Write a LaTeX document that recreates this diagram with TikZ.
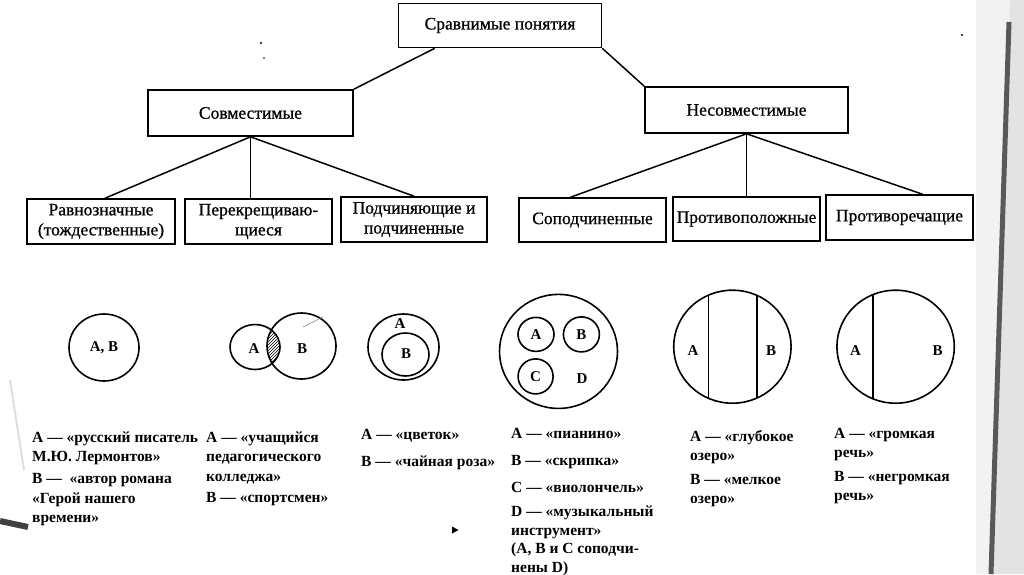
\documentclass[tikz,border=0pt]{standalone}
\usepackage{fontspec}
\setmainfont{Liberation Serif}
\newfontfamily\boxfont[FakeBold=0.8]{Liberation Serif}
\usetikzlibrary{patterns}
\begin{document}
\begin{tikzpicture}[x=1pt,y=-1pt,
  box/.style={draw,line width=1.6pt,inner sep=0pt,align=center,font=\boxfont\fontsize{17.5}{20}\selectfont},
  conn/.style={line width=1.5pt},
  ex/.style={anchor=north west,inner sep=0pt,align=left,font=\bfseries\fontsize{15.5}{19.5}\selectfont},
  lab/.style={inner sep=0pt,font=\bfseries\fontsize{15}{17}\selectfont},
  ring/.style={line width=1.6pt}]
\useasboundingbox (0,0) rectangle (1024,574);
% photo background at the edges
\fill[gray!10] (976,0) rectangle (1024,574);
\fill[gray!22] (1010,0) -- (1024,0) -- (1024,574) -- (992,574) -- cycle;
\draw[line width=5pt,black!65] (1009,22) -- (991,574);
\draw[line width=6pt,black!75] (0,521) -- (28,527);
\draw[line width=2pt,gray!25] (10,380) -- (24,470);
% boxes
\node[box,minimum width=203pt,minimum height=44pt] (top) at (500,25.5) {Сравнимые понятия};
\node[box,minimum width=205pt,minimum height=46pt] (sov) at (250.5,113) {Совместимые};
\node[box,minimum width=203pt,minimum height=46pt] (nes) at (746.5,110) {Несовместимые};
\node[box,minimum width=148pt,minimum height=45pt] (r1) at (101,221.5) {Равнозначные\\(тождественные)};
\node[box,minimum width=147pt,minimum height=45pt] (r2) at (258.5,221.5) {Перекрещиваю-\\щиеся};
\node[box,minimum width=146pt,minimum height=45pt] (r3) at (414,219.5) {Подчиняющие и\\подчиненные};
\node[box,minimum width=147pt,minimum height=44pt] (r4) at (592.5,220) {Соподчиненные};
\node[box,minimum width=147pt,minimum height=44pt] (r5) at (746.5,219) {Противоположные};
\node[box,minimum width=147pt,minimum height=45pt] (r6) at (899.5,217.5) {Противоречащие};
% connectors
\draw[conn] ([xshift=37pt]top.south west) -- (sov.north east);
\draw[conn] (top.south east) -- (nes.north west);
\draw[conn] (sov.south) -- ([xshift=4pt]r1.north);
\draw[conn] (sov.south) -- (sov.south |- r2.north);
\draw[conn] (sov.south) -- (r3.north);
\draw[conn] (nes.south) -- ([xshift=-22pt]r4.north);
\draw[conn] (nes.south) -- (r5.north);
\draw[conn] (nes.south) -- ([xshift=23pt]r6.north);
% circles: identical
\draw[ring] (104,347.5) ellipse [x radius=35, y radius=33.5];
\node[lab] (ab) at (104,348) {А, В};
% crossing
\begin{scope}
  \clip (255,347) ellipse [x radius=25, y radius=22.5];
  \fill[pattern=north east lines] (301.5,346) ellipse [x radius=34.5, y radius=33];
\end{scope}
\draw[ring] (255,347) ellipse [x radius=25, y radius=22.5];
\draw[ring] (301.5,346) ellipse [x radius=34.5, y radius=33];
\draw[gray,line width=0.6pt] (303,327) -- (323,317);
\node[lab] (xa) at (254,349) {А};
\node[lab] (xb) at (302,349) {В};
% nested
\draw[ring] (403.5,347) ellipse [x radius=35.5, y radius=33];
\draw[ring] (405.5,354.5) ellipse [x radius=23.5, y radius=21.5];
\node[lab] (na) at (400,324) {А};
\node[lab] (nb) at (406,354) {В};
% co-subordinate
\draw[ring] (558.5,351.4) ellipse [x radius=59, y radius=57];
\draw[ring] (536,334.4) ellipse [x radius=18, y radius=17];
\draw[ring] (581.4,334.4) ellipse [x radius=18, y radius=17.5];
\draw[ring] (535.6,376.4) ellipse [x radius=17.5, y radius=17.5];
\node[lab] (sa) at (536,334.5) {А};
\node[lab] (sb) at (581.4,334.5) {В};
\node[lab] (sc) at (535.6,376.5) {С};
\node[lab] (sd) at (582,378.6) {D};
% opposite
\begin{scope}
  \clip (732.4,346.7) ellipse [x radius=58.7, y radius=56.5];
  \draw[ring] (708.4,280) -- (708.4,420);
  \draw[ring] (757,280) -- (757,420);
\end{scope}
\draw[ring] (732.4,346.7) ellipse [x radius=58.7, y radius=56.5];
\node[lab] (oa) at (693,350.5) {А};
\node[lab] (ob) at (771,350.5) {В};
% contradictory
\begin{scope}
  \clip (895.6,346.7) ellipse [x radius=58.7, y radius=56.5];
  \draw[ring] (872.7,280) -- (872.7,420);
\end{scope}
\draw[ring] (895.6,346.7) ellipse [x radius=58.7, y radius=56.5];
\node[lab] (ca) at (855.6,350.5) {А};
\node[lab] (cb) at (937.6,350.5) {В};
% examples
\node[ex] (e1) at (32,431.5) {А — «русский писатель\\ М.Ю. Лермонтов»\\[2.5pt] В — \ «автор романа\\ «Герой нашего\\ времени»};
\node[ex] (e2) at (206,431.5) {А — «учащийся\\ педагогического\\ колледжа»\\[1.5pt] В — «спортсмен»};
\node[ex] (e3) at (361,429.5) {А — «цветок»\\[7.5pt] В — «чайная роза»};
\node[ex,font=\bfseries\fontsize{15.5}{18.5}\selectfont] (e4) at (511,428.5) {А — «пианино»\\[8.5pt] В — «скрипка»\\[8.5pt] С — «виолончель»\\[5.5pt] D — «музыкальный\\ инструмент»\\ (А, В и С соподчи-\\ нены D)};
\node[ex,font=\bfseries\fontsize{15.5}{19}\selectfont] (e5) at (690,430.5) {А — «глубокое\\ озеро»\\[5pt] В — «мелкое\\ озеро»};
\node[ex,font=\bfseries\fontsize{15.5}{19}\selectfont] (e6) at (834,428.5) {А — «громкая\\ речь»\\[5pt] В — «негромкая\\ речь»};
% specks
\fill (452,526.5) -- (458.5,530) -- (452,533.5) -- cycle;
\fill (261,43) circle [radius=1.1];
\fill (264,58) circle [radius=0.9];
\fill (962,35) circle [radius=1.1];
\end{tikzpicture}
\end{document}
